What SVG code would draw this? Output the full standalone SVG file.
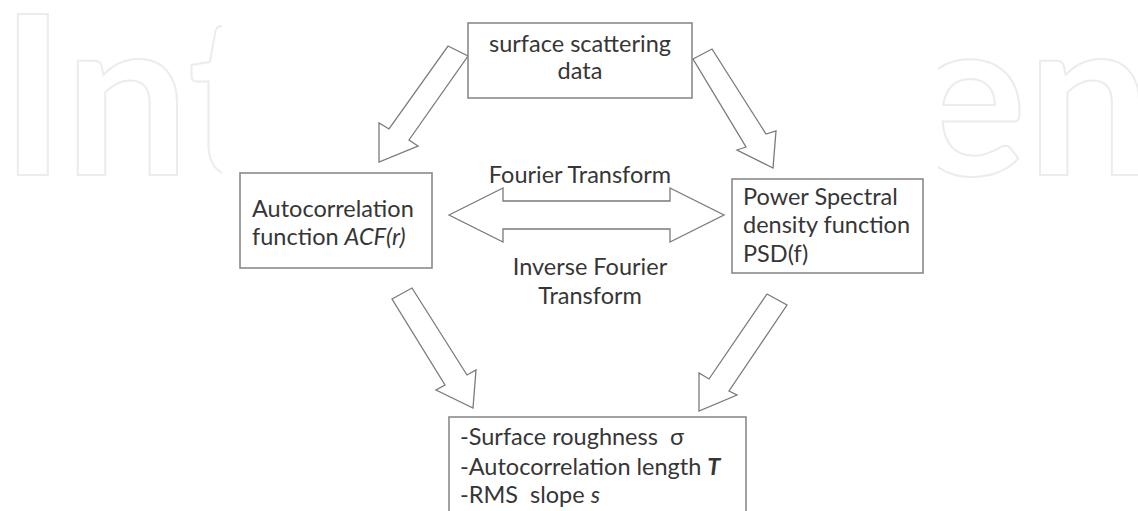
<svg xmlns="http://www.w3.org/2000/svg" width="1138" height="511" viewBox="0 0 1138 511">
<style>
.wm{font-family:Lato,"Liberation Sans",sans-serif;font-weight:bold;font-size:222px;fill:none;stroke:#ececec;stroke-width:2}
.box{fill:#fff;stroke:#8a8a8a;stroke-width:1.6}
.arr{fill:#fff;stroke:#7a7a7a;stroke-width:1.3;stroke-linejoin:miter}
.t{font-family:Lato,"Liberation Sans",sans-serif;font-size:23.5px;fill:#363636}
.c{text-anchor:middle}
</style>
<defs>
<clipPath id="cl"><rect x="0" y="0" width="222" height="511"/></clipPath>
<clipPath id="cr"><rect x="938" y="0" width="200" height="511"/></clipPath>
</defs>
<rect width="1138" height="511" fill="#fff"/>
<g id="watermark">
<text class="wm" x="0" y="175" clip-path="url(#cl)">Int</text>
<text class="wm" x="908" y="175" clip-path="url(#cr)">en</text>
</g>
<g id="connectors">
<polygon class="arr" points="448,46 468,56 409,140 418,146 379,162 379,123 389,129"/>
<polygon class="arr" points="693,59 712,49 766,134 776,131 773,168 737,150 746,147"/>
<polygon class="arr" points="449,215 503,188 503,201 670,201 670,188 724,215 670,242 670,229 503,229 503,242"/>
<polygon class="arr" points="392,299 412,288 467,375 476,370 473,408 436,390 445,385"/>
<polygon class="arr" points="767,294 787,305 729,391 737,395 699,411 699,373 709,379"/>
</g>
<g id="labels">
<text class="t c" x="580" y="183">Fourier Transform</text>
<text class="t c" x="590" y="275">Inverse Fourier</text>
<text class="t c" x="590" y="304">Transform</text>
</g>
<g id="node-data">
<rect class="box" x="468" y="23" width="224" height="75"/>
<text class="t c" x="580" y="52">surface scattering</text>
<text class="t c" x="580" y="79">data</text>
</g>
<g id="node-acf">
<rect class="box" x="240" y="173" width="192" height="95"/>
<text class="t" x="252" y="217">Autocorrelation</text>
<text class="t" x="252" y="245">function <tspan font-style="italic">ACF(r)</tspan></text>
</g>
<g id="node-psd">
<rect class="box" x="732" y="179" width="191" height="94"/>
<text class="t" x="743" y="205">Power Spectral</text>
<text class="t" x="743" y="233">density function</text>
<text class="t" x="743" y="262">PSD(f)</text>
</g>
<g id="node-params">
<rect class="box" x="449" y="417" width="297" height="110"/>
<text class="t" x="460" y="445" xml:space="preserve">-Surface roughness  σ</text>
<text class="t" x="460" y="475">-Autocorrelation length <tspan font-style="italic" font-weight="bold">T</tspan></text>
<text class="t" x="460" y="503" xml:space="preserve">-RMS  slope <tspan font-style="italic">s</tspan></text>
</g>
</svg>
